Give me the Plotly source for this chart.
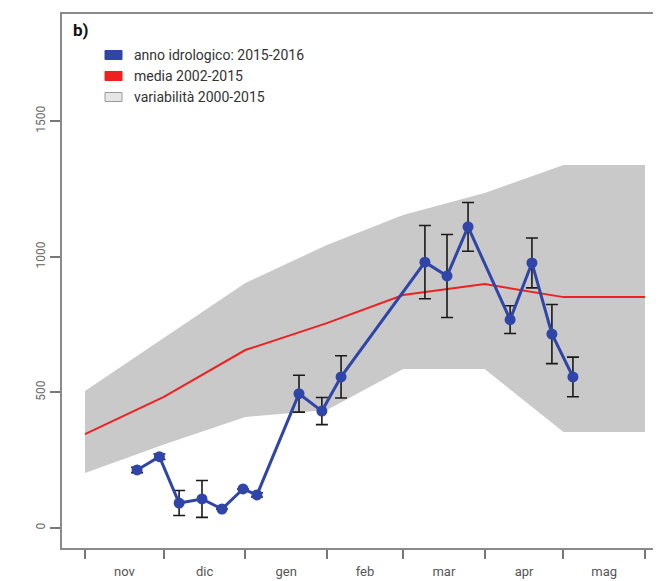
import plotly.graph_objects as go

# ---- data ----
# month boundaries (days since 1 Nov 2015) and labels
mesi = ["nov", "dic", "gen", "feb", "mar", "apr", "mag"]
inizio_mese = [0, 30, 61, 92, 121, 152, 182, 213]

# anno idrologico 2015-2016 (days since 1 Nov 2015)
giorni = [19.8, 28.3, 35.8, 44.5, 52.1, 60.1, 65.4, 81.4, 90.1, 97.4,
          129.3, 137.7, 145.7, 161.7, 170.0, 177.6, 185.6]
valori = [214, 263, 92, 107, 70, 144, 122, 495, 431, 557,
          980, 929, 1110, 768, 977, 715, 557]
errori = [10, 10, 46, 68, 0, 0, 8, 68, 50, 78,
          135, 153, 90, 51, 92, 109, 73]

# media 2002-2015 (monthly nodes)
media = [346, 483, 656, 755, 859, 899, 851, 851]

# variabilità 2000-2015 (monthly nodes)
var_sup = [505, 700, 903, 1043, 1154, 1235, 1338, 1338]
var_inf = [203, 308, 409, 435, 586, 586, 354, 354]

legenda = ["anno idrologico: 2015-2016", "media 2002-2015", "variabilità 2000-2015"]

# ---- figure ----
# the page body has an 8px default margin, so the figure is made 8px smaller
OFF = 8
W, H = 661 - OFF, 581 - OFF
PLOT_L, PLOT_T, PLOT_B, PLOT_R = 62, 14, 548, 661   # in window pixels
ML, MT = PLOT_L - OFF, PLOT_T - OFF
MB = H - (PLOT_B - OFF)
MR = W - (PLOT_R - OFF)
PW, PH = W - ML - MR, H - MT - MB

BLUE = "#2f45a8"
RED = "#ee2020"
GREY = "#c9c9c9"
FONT = "Roboto"

fig = go.Figure()

fig.add_trace(go.Scatter(
    x=inizio_mese + inizio_mese[::-1],
    y=var_sup + var_inf[::-1],
    fill="toself", fillcolor=GREY, mode="lines",
    line=dict(width=0, color=GREY), hoverinfo="skip", showlegend=False))

fig.add_trace(go.Scatter(
    x=inizio_mese, y=media, mode="lines",
    line=dict(color=RED, width=2), showlegend=False))

fig.add_trace(go.Scatter(
    x=giorni, y=valori, mode="lines+markers",
    line=dict(color=BLUE, width=3),
    marker=dict(color=BLUE, size=11),
    error_y=dict(type="data", array=errori, visible=True,
                 color="#1a1a1a", thickness=1.6, width=6),
    showlegend=False))

# invisible trace to activate second x axis for the month labels
mid = [(inizio_mese[i] + inizio_mese[i + 1]) / 2 for i in range(len(mesi))]
fig.add_trace(go.Scatter(x=mid, y=[None] * len(mid), xaxis="x2",
                         mode="markers", showlegend=False, hoverinfo="skip"))

x0 = -(85 - PLOT_L) / 2.629
x1 = x0 + PW / 2.629
ymax = (528 - PLOT_T) / 0.2713
ymin = -(PLOT_B - 528) / 0.2713

fig.update_layout(
    width=W, height=H,
    margin=dict(l=ML, r=MR, t=MT, b=MB, autoexpand=False),
    paper_bgcolor="white", plot_bgcolor="white",
    font=dict(family=FONT, color="#555"),
    showlegend=False,
    xaxis=dict(range=[x0, x1], tickmode="array", tickvals=inizio_mese,
               ticktext=[""] * len(inizio_mese), automargin=False,
               ticks="outside", ticklen=9, tickwidth=2, tickcolor="#777",
               showline=True, linecolor="#8a8a8a", linewidth=2, mirror=True,
               showgrid=False, zeroline=False, fixedrange=True),
    xaxis2=dict(range=[x0, x1], overlaying="x", side="bottom", anchor="y",
                tickmode="array", tickvals=mid, ticktext=mesi, automargin=False,
                ticks="outside", ticklen=11, tickcolor="rgba(0,0,0,0)",
                tickfont=dict(size=13, color="#555"),
                showline=False, showgrid=False, zeroline=False),
    yaxis=dict(range=[ymin, ymax], tickmode="array", automargin=False,
               tickvals=[0, 500, 1000, 1500],
               ticks="outside", ticklen=10, tickwidth=2, tickcolor="#777",
               tickangle=-90, tickfont=dict(size=12, color="#666"),
               showline=True, linecolor="#8a8a8a", linewidth=2,
               showgrid=False, zeroline=False),
)

# manual legend (positions given in window pixels)
def px(xp):
    return (xp - PLOT_L) / PW

def py(yp):
    return (PLOT_B - yp) / PH

leg_y = [55, 76, 97]
leg_fill = [BLUE, RED, "#e6e6e6"]
leg_line = [BLUE, RED, "#9a9a9a"]
for lab, yc, fc, lc in zip(legenda, leg_y, leg_fill, leg_line):
    fig.add_shape(type="rect", xref="paper", yref="paper",
                  x0=px(105), x1=px(122), y0=py(yc + 4.5), y1=py(yc - 4.5),
                  fillcolor=fc, line=dict(color=lc, width=1))
    fig.add_annotation(text=lab, xref="paper", yref="paper",
                       x=px(132), y=py(yc), xanchor="left", yanchor="middle",
                       showarrow=False, font=dict(size=14, color="#333", family=FONT))

fig.add_annotation(text="<b>b)</b>", xref="paper", yref="paper",
                   x=px(71), y=py(30), xanchor="left", yanchor="middle",
                   showarrow=False, font=dict(size=17, color="#111", family=FONT))

fig.write_html("out.html")
